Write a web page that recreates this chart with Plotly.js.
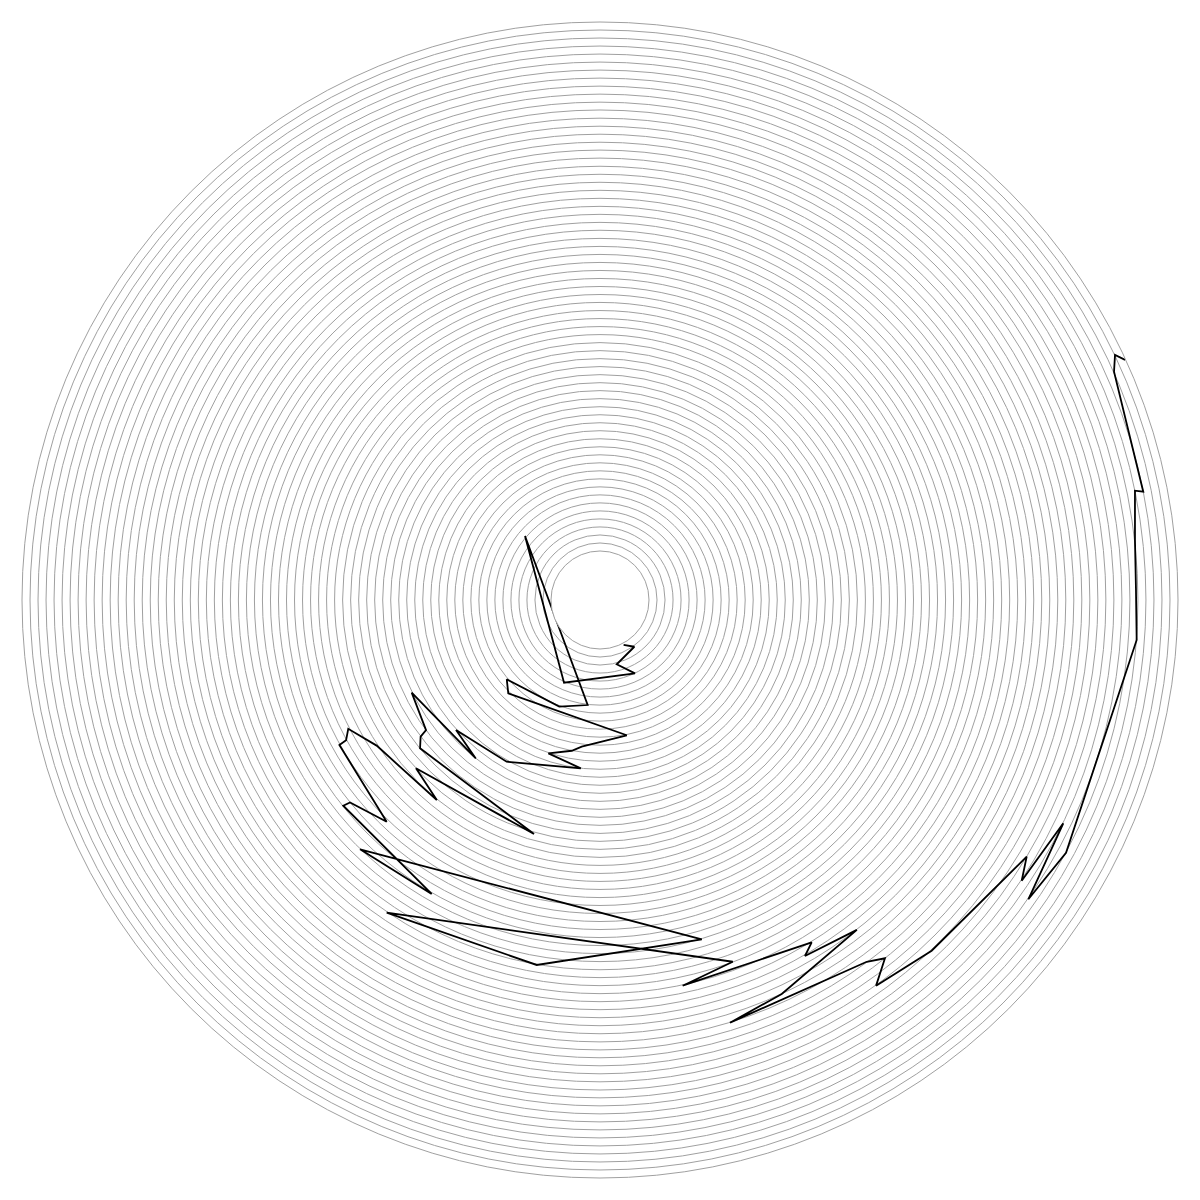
<!DOCTYPE html>
<html>
<head>
<meta charset="utf-8">
<script src="https://cdn.plot.ly/plotly-3.0.1.min.js"></script>
<style>
  html, body { margin: 0; padding: 0; background: #ffffff; }
  #chart { width: 1200px; height: 1200px; }
</style>
</head>
<body>
<div id="chart"></div>
<script>
// Radius values (in grid-ring units)
const rValues = [
  0.2, 1.12, 2.17, 4.02, 5.14, 6.19, 7.08, 8.13, 9.16, 10.21,
  11.09, 12.33, 13.02, 14.07, 15.02, 17.18, 18.09, 19.0, 20.07, 20.99,
  22.02, 22.98, 24.22, 25.0, 26.1, 27.15, 29.17, 30.07, 31.1, 32.27,
  34.01, 34.93, 36.15, 37.06, 38.08, 40.1, 41.11, 41.96, 43.1, 44.1,
  45.14, 46.05, 48.02, 49.06, 49.96, 51.0, 53.06, 54.11, 56.01,
  57.09, 58.05, 59.08, 60.03, 61.03, 60.77, 61.05, 62.01, 63.0, 64.06,
  65.04, 65.92
];
// Angle values in degrees (0 = east, counter-clockwise)
const thetaValues = [
  -62.2, -53.7, -75.4, -64.5, -113.5, 139.5, -96.7, -110.9, -139.6, -134.5,
  -78.8, -97.1, -100.6, -108.6, -96.5, -120.0, -137.9, -128.1, -153.8, -143.2,
  -142.7, -140.5, -105.75, -137.55, -129.2, -146.9, -152.9, -151.1, -150.9, -133.9,
  -141.0, -141.3, -119.8, -133.9, -73.3, -99.84, -124.3, -69.85, -77.9, -58.27,
  -60.07, -52.1, -65.24, -72.9, -53.6, -51.5, -54.4, -46.6, -31.03,
  -33.65, -25.73, -34.94, -28.47, -4.26, 1.25, 6.4, 11.55, 11.27, 23.95,
  25.44, 24.57
];
const radialRange = [0, 66];

const trace = {
  type: 'scatterpolar',
  mode: 'lines',
  r: rValues,
  theta: thetaValues,
  line: { color: '#000000', width: 1.8 },
  hoverinfo: 'none',
  showlegend: false
};

const layout = {
  width: 1200,
  height: 1200,
  margin: { l: 22, r: 22, t: 22, b: 22, pad: 0 },
  paper_bgcolor: '#ffffff',
  plot_bgcolor: '#ffffff',
  showlegend: false,
  polar: {
    bgcolor: '#ffffff',
    hole: 0.0848,
    domain: { x: [0, 1], y: [0, 1] },
    radialaxis: {
      range: radialRange,
      tick0: 0,
      dtick: 1,
      showgrid: true,
      gridcolor: '#a0a0a0',
      gridwidth: 1,
      showticklabels: false,
      ticks: '',
      showline: false,
      zeroline: false
    },
    angularaxis: {
      rotation: 0,
      direction: 'counterclockwise',
      showgrid: false,
      showticklabels: false,
      ticks: '',
      showline: true,
      linecolor: '#a0a0a0',
      linewidth: 1
    }
  }
};

Plotly.newPlot('chart', [trace], layout, { displayModeBar: false, staticPlot: true });
</script>
</body>
</html>
